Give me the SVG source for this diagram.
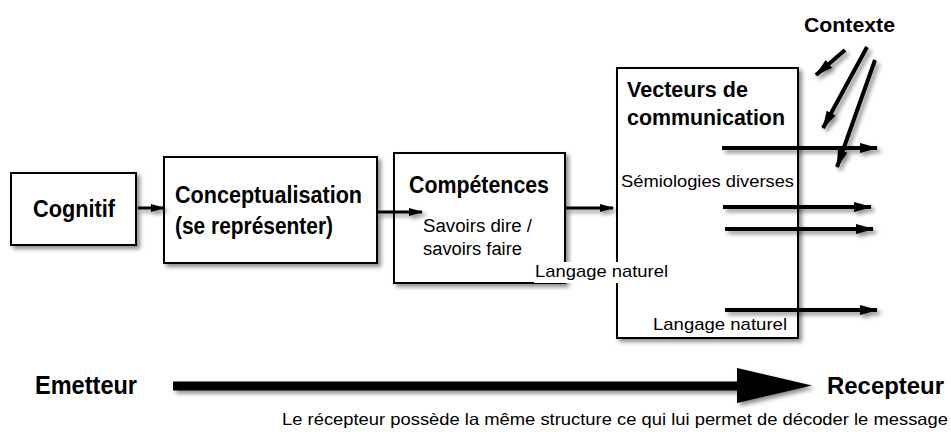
<svg xmlns="http://www.w3.org/2000/svg" width="951" height="432" viewBox="0 0 951 432">
<defs>
<filter id="sh" x="-20%" y="-20%" width="140%" height="140%">
<feDropShadow dx="3" dy="3" stdDeviation="2" flood-color="#000" flood-opacity="0.45"/>
</filter>
<marker id="ah" markerUnits="userSpaceOnUse" markerWidth="18" markerHeight="12" refX="17" refY="6" orient="auto">
<path d="M0,1 L18,6 L0,11 Z" fill="#000"/>
</marker>
<marker id="ahs" markerUnits="userSpaceOnUse" markerWidth="14" markerHeight="10" refX="13" refY="5" orient="auto">
<path d="M0,1 L14,5 L0,9 Z" fill="#000"/>
</marker>
</defs>
<style>
.box{fill:#fff;stroke:#000;stroke-width:2}
.b{font-family:"Liberation Sans",Arial,sans-serif;font-weight:bold;fill:#000}
.r{font-family:"Liberation Sans",Arial,sans-serif;fill:#000}
.ln{stroke:#000;fill:none}
</style>
<rect width="951" height="432" fill="#fff"/>

<g id="cognitif">
<rect class="box" x="11" y="173" width="125" height="72" filter="url(#sh)"/>
<text class="b" x="33" y="217" font-size="23" textLength="82" lengthAdjust="spacingAndGlyphs">Cognitif</text>
</g>

<g id="conceptualisation">
<rect class="box" x="164" y="157" width="213" height="106" filter="url(#sh)"/>
<text class="b" x="175" y="203" font-size="23" textLength="187" lengthAdjust="spacingAndGlyphs">Conceptualisation</text>
<text class="b" x="175" y="234" font-size="23" textLength="158" lengthAdjust="spacingAndGlyphs">(se représenter)</text>
</g>

<g id="competences">
<rect class="box" x="394" y="153" width="171" height="130" filter="url(#sh)"/>
<text class="b" x="409" y="193" font-size="23" textLength="140" lengthAdjust="spacingAndGlyphs">Compétences</text>
<text class="r" x="423" y="232" font-size="18" textLength="109" lengthAdjust="spacingAndGlyphs">Savoirs dire /</text>
<text class="r" x="423" y="255" font-size="18" textLength="99" lengthAdjust="spacingAndGlyphs">savoirs faire</text>
</g>

<g id="vecteurs">
<rect class="box" x="617" y="68" width="181" height="270" filter="url(#sh)"/>
<text class="b" x="627" y="97" font-size="22" textLength="121" lengthAdjust="spacingAndGlyphs">Vecteurs de</text>
<text class="b" x="627" y="125" font-size="22" textLength="158" lengthAdjust="spacingAndGlyphs">communication</text>
<text class="r" x="621" y="187" font-size="17" textLength="173" lengthAdjust="spacingAndGlyphs">Sémiologies diverses</text>
<text class="r" x="653" y="330" font-size="17" textLength="134" lengthAdjust="spacingAndGlyphs">Langage naturel</text>
</g>

<g id="langage-naturel">
<rect x="534" y="262" width="136" height="21" fill="#fff"/>
<text class="r" x="535" y="277" font-size="17" textLength="133" lengthAdjust="spacingAndGlyphs">Langage naturel</text>
</g>

<g id="contexte">
<text class="b" x="804" y="32" font-size="20" textLength="91" lengthAdjust="spacingAndGlyphs">Contexte</text>
</g>

<g id="emetteur">
<text class="b" x="35" y="394" font-size="26" textLength="102" lengthAdjust="spacingAndGlyphs">Emetteur</text>
</g>
<g id="recepteur">
<text class="b" x="827" y="394" font-size="24" textLength="117" lengthAdjust="spacingAndGlyphs">Recepteur</text>
</g>
<g id="note">
<text class="r" x="282" y="425" font-size="16.5" textLength="666" lengthAdjust="spacingAndGlyphs">Le récepteur possède la même structure ce qui lui permet de décoder le message</text>
</g>

<g id="connectors" filter="url(#sh)">
<line class="ln" x1="138" y1="208" x2="164" y2="208" stroke-width="3" marker-end="url(#ahs)"/>
<line class="ln" x1="377" y1="212" x2="422" y2="212" stroke-width="3" marker-end="url(#ahs)"/>
<line class="ln" x1="565" y1="208" x2="613" y2="208" stroke-width="3" marker-end="url(#ahs)"/>

<line class="ln" x1="722" y1="148" x2="877" y2="148" stroke-width="4" marker-end="url(#ah)"/>
<line class="ln" x1="723" y1="207" x2="871" y2="207" stroke-width="4" marker-end="url(#ah)"/>
<line class="ln" x1="725" y1="229" x2="873" y2="229" stroke-width="4" marker-end="url(#ah)"/>
<line class="ln" x1="725" y1="310" x2="877" y2="310" stroke-width="4" marker-end="url(#ah)"/>

<line class="ln" x1="845" y1="50" x2="816" y2="75" stroke-width="4" marker-end="url(#ah)"/>
<line class="ln" x1="867" y1="47" x2="823" y2="128" stroke-width="4" marker-end="url(#ah)"/>
<line class="ln" x1="875" y1="60" x2="837" y2="167" stroke-width="4" marker-end="url(#ah)"/>

<line class="ln" x1="173" y1="386" x2="740" y2="386" stroke-width="9"/>
<path d="M737,368 L812,385.5 L737,403 Z" fill="#000"/>
</g>
</svg>
